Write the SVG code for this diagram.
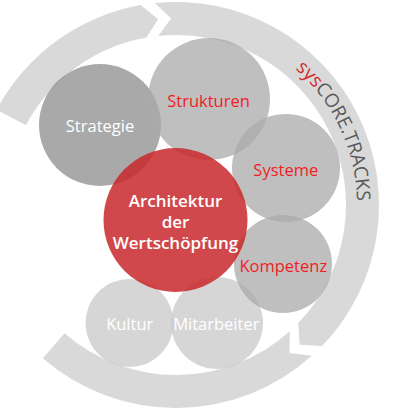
<svg xmlns="http://www.w3.org/2000/svg" width="400" height="408" viewBox="0 0 400 408">
<style>
.band{fill:#d9d9d9}
.lbl{font-family:"Open Sans","Liberation Sans",sans-serif;font-size:16.5px;text-anchor:middle}
.red{fill:#f21d24}
.wht{fill:#ffffff}
.main{font-family:"Open Sans","Liberation Sans",sans-serif;font-size:17px;font-weight:600;fill:#ffffff;text-anchor:middle}
.ring{font-family:"Open Sans","Liberation Sans",sans-serif;font-size:19px;fill:#595959}
</style>
<defs>
<path id="ringPath" d="M 266.5,48.25 A 181 181 0 0 1 354.25,236.43"/>
</defs>
<g id="connectors">
<path class="band" d="M -3.24,109.70 A 203 203 0 0 1 140.75,5.08 L 158.12,19.36 L 146.48,37.58 A 170 170 0 0 0 25.90,125.19 Z"/>
<path class="band" d="M 154.78,3.11 A 203 203 0 0 1 322.03,346.02 L 299.58,344.68 L 298.29,323.09 A 170 170 0 0 0 158.23,35.93 L 171.12,18.56 Z"/>
<path class="band" d="M 311.83,355.86 A 203 203 0 0 1 42.82,358.21 L 64.47,333.30 A 170 170 0 0 0 289.75,331.33 L 289.53,352.96 Z"/>
<text class="ring"><textPath href="#ringPath" startOffset="50%" text-anchor="middle"><tspan fill="#d42a2f">sys</tspan>CORE.TRACKS</textPath></text>
</g>
<g id="kultur">
<circle cx="129.5" cy="323" r="44" fill="#c8c8c8" fill-opacity="0.75"/>
<text class="lbl wht" x="129.7" y="330">Kultur</text>
</g>
<g id="mitarbeiter">
<circle cx="217" cy="323" r="46" fill="#c8c8c8" fill-opacity="0.75"/>
<text class="lbl wht" x="216.3" y="330">Mitarbeiter</text>
</g>
<g id="strategie">
<circle cx="100" cy="125" r="61" fill="#8c8c8c" fill-opacity="0.75"/>
<text class="lbl wht" x="100" y="131.5">Strategie</text>
</g>
<g id="strukturen">
<circle cx="209" cy="99" r="61" fill="#ababab" fill-opacity="0.76"/>
<text class="lbl red" x="208.5" y="106.5">Strukturen</text>
</g>
<g id="systeme">
<circle cx="286" cy="168" r="54" fill="#ababab" fill-opacity="0.76"/>
<text class="lbl red" x="285.8" y="176">Systeme</text>
</g>
<g id="kompetenz">
<circle cx="283" cy="264" r="49" fill="#ababab" fill-opacity="0.76"/>
<text class="lbl red" x="283.3" y="271.5">Kompetenz</text>
</g>
<g id="architektur">
<circle cx="175.5" cy="220" r="72" fill="#c8282d" fill-opacity="0.85"/>
<text class="main" x="175.5" y="207">Architektur</text>
<text class="main" x="175.5" y="228">der</text>
<text class="main" x="175.5" y="249">Wertschöpfung</text>
</g>
</svg>
